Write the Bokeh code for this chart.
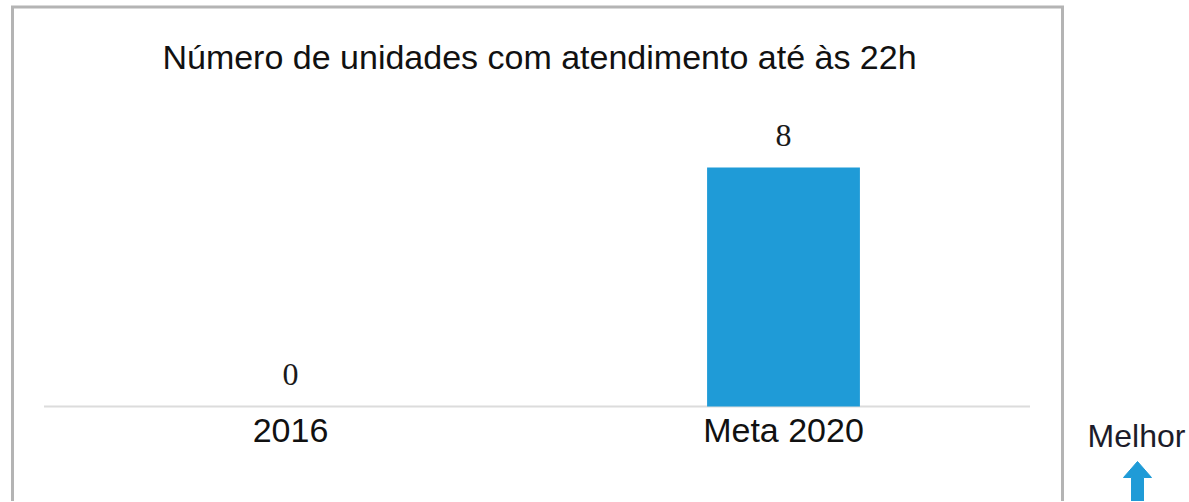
from bokeh.plotting import figure
from bokeh.models import ColumnDataSource, LabelSet, Range1d, FixedTicker
from bokeh.core.properties import value
from bokeh.embed import file_html
from bokeh.resources import INLINE

# ---- data ----
categories = ["2016", "Meta 2020"]
values = [0, 8]
value_labels = ["0", "8"]
title_text = "Número de unidades com atendimento até às 22h"
side_text = "Melhor"

BLUE = "#1F9BD7"
SANS = "Liberation Sans"
SERIF = "Liberation Serif"
GREY_BOX = "#b4b4b4"

W, H = 1188, 501
# layout geometry (pixels): first category centre, spacing, baseline, scale
X0_PX, STEP_PX = 290.0, 493.0
BASE_PX, UNIT_PX = 406.0, 29.875


def X(px):
    return (px - X0_PX) / STEP_PX


def Y(py):
    return (BASE_PX - py) / UNIT_PX


idx = list(range(len(categories)))
source = ColumnDataSource(data=dict(x=idx, val=values, lab=value_labels))

p = figure(
    x_range=Range1d(X(0), X(W)), y_range=Range1d(Y(H), Y(0)),
    width=W, height=H,
    output_backend="svg", toolbar_location=None,
    y_axis_location=None,
    min_border=0, min_border_left=0, min_border_right=0,
    min_border_top=0, min_border_bottom=0,
)
p.xgrid.grid_line_color = None
p.ygrid.grid_line_color = None
p.outline_line_color = None
p.background_fill_color = "white"
p.border_fill_color = "white"

# chart box (open at the bottom, beyond the window)
p.line(x=[X(12), X(12), X(1062), X(1062)], y=[Y(560), Y(6.5), Y(6.5), Y(560)],
       line_color=GREY_BOX, line_width=3, line_join="miter")

# title
p.text(x=[X(539)], y=[Y(56)], text=[title_text], text_align="center",
       text_baseline="alphabetic", text_font=value(SANS),
       text_font_size="34px", text_color="#111111")

# baseline of the bars
p.segment(x0=[idx[0] - 0.5], y0=[0], x1=[idx[-1] + 0.5], y1=[0],
          line_color="#dcdcdc", line_width=2)

# bars
p.vbar(x="x", top="val", width=0.31, source=source,
       fill_color=BLUE, line_color=None)

labels = LabelSet(x="x", y="val", text="lab", source=source,
                  text_align="center", text_baseline="alphabetic",
                  y_offset=22, text_font=SERIF, text_font_size="32px",
                  text_color="#1a1a1a")
p.add_layout(labels)

# category axis placed on the baseline
ax = p.xaxis[0]
ax.fixed_location = 0
ax.ticker = FixedTicker(ticks=idx)
ax.major_label_overrides = {i: c for i, c in zip(idx, categories)}
ax.axis_line_color = None
ax.major_tick_line_color = None
ax.minor_tick_line_color = None
ax.major_tick_out = 0
ax.major_tick_in = 0
ax.major_label_standoff = 4
ax.major_label_text_font = SANS
ax.major_label_text_font_size = "34px"
ax.major_label_text_color = "#111111"

# "Melhor" with an upward arrow, outside the box
p.text(x=[X(1136)], y=[Y(435)], text=[side_text], text_align="center",
       text_baseline="alphabetic", text_font=value(SANS),
       text_font_size="32px", text_color="#1c1c2a")
ax_px = [1137, 1151, 1143, 1143, 1131, 1131, 1123]
ay_px = [461, 477, 477, 520, 520, 477, 477]
p.patch(x=[X(v) for v in ax_px], y=[Y(v) for v in ay_px],
        fill_color=BLUE, line_color=BLUE, line_width=1)

open("out.html", "w").write(file_html(p, INLINE))
